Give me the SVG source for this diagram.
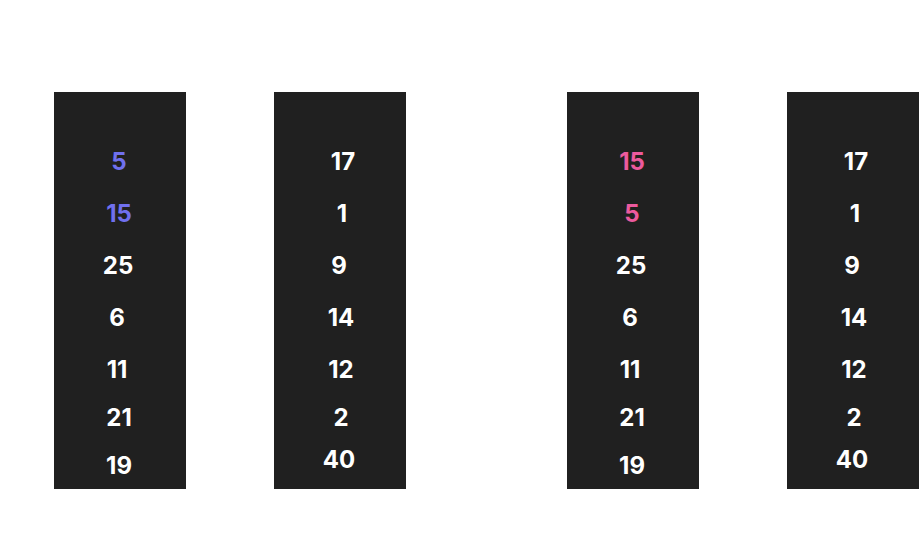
<svg xmlns="http://www.w3.org/2000/svg" width="924" height="550" viewBox="0 0 924 550">
<style>
.col{fill:#202020}
text{font-family:Inter,"Noto Sans","Liberation Sans",sans-serif;font-weight:700;font-size:24px;fill:#ffffff;text-anchor:middle}
.b{fill:#7070ee}
.p{fill:#ec5a9e}
</style>
<rect width="924" height="550" fill="#ffffff"/>
<g id="col1">
<rect class="col" x="54" y="92" width="132" height="397"/>
<text class="b" x="119" y="169.5">5</text>
<text class="b" x="119" y="221.5">15</text>
<text x="118" y="273.5">25</text>
<text x="117" y="325.5">6</text>
<text x="117" y="377.5">11</text>
<text x="119" y="425.5">21</text>
<text x="119" y="473.5">19</text>
</g>
<g id="col2">
<rect class="col" x="274" y="92" width="132" height="397"/>
<text x="343" y="169.5">17</text>
<text x="342" y="221.5">1</text>
<text x="339" y="273.5">9</text>
<text x="341" y="325.5">14</text>
<text x="341" y="377.5">12</text>
<text x="341" y="425.5">2</text>
<text x="339" y="467.5">40</text>
</g>
<g id="col3">
<rect class="col" x="567" y="92" width="132" height="397"/>
<text class="p" x="632" y="169.5">15</text>
<text class="p" x="632" y="221.5">5</text>
<text x="631" y="273.5">25</text>
<text x="630" y="325.5">6</text>
<text x="630" y="377.5">11</text>
<text x="632" y="425.5">21</text>
<text x="632" y="473.5">19</text>
</g>
<g id="col4">
<rect class="col" x="787" y="92" width="132" height="397"/>
<text x="856" y="169.5">17</text>
<text x="855" y="221.5">1</text>
<text x="852" y="273.5">9</text>
<text x="854" y="325.5">14</text>
<text x="854" y="377.5">12</text>
<text x="854" y="425.5">2</text>
<text x="852" y="467.5">40</text>
</g>
<g id="connectors"></g>
</svg>
